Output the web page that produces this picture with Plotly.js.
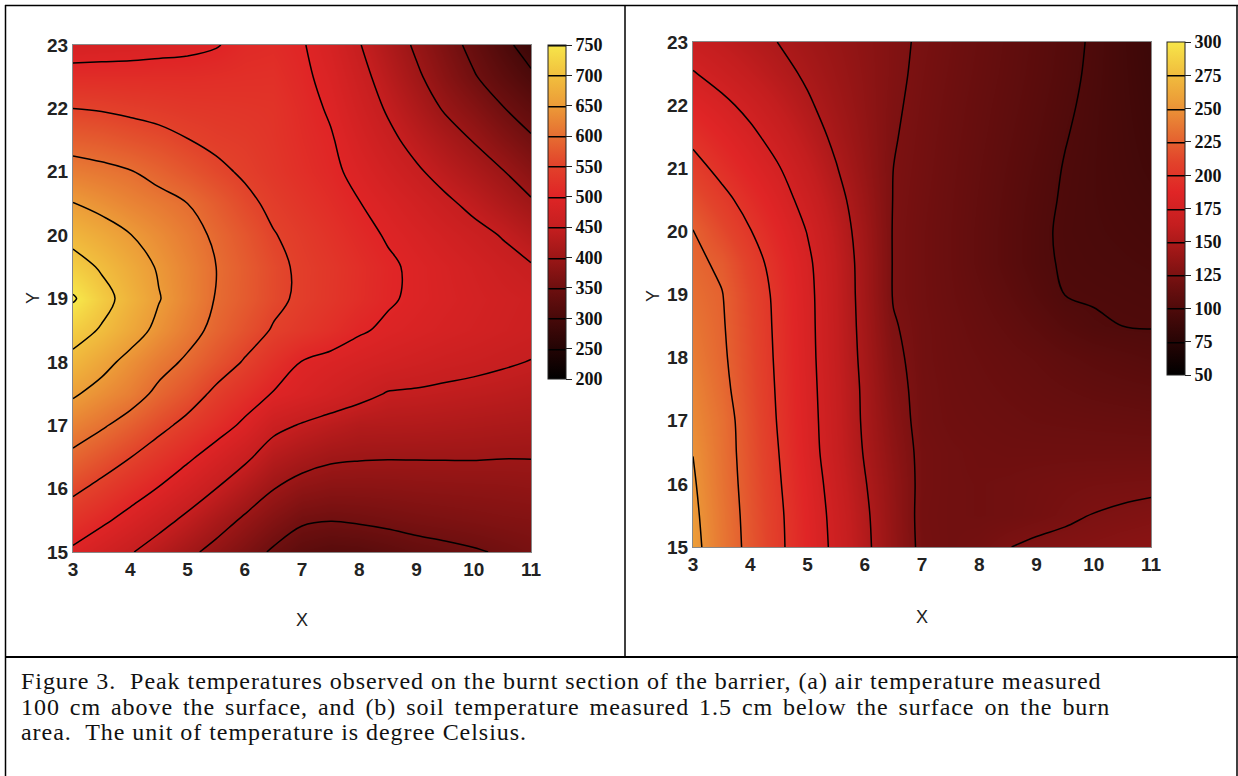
<!DOCTYPE html>
<html><head><meta charset="utf-8">
<script src="https://cdn.plot.ly/plotly-3.0.1.min.js"></script>
<style>
html,body{margin:0;padding:0;background:#fff;} #chart{width:1238px;height:776px;}
.annotation[data-index="4"] text, .annotation[data-index="5"] text, .annotation[data-index="6"] text { letter-spacing: 0.95px; }
.annotation[data-index="5"] text { word-spacing: 3px; }
</style>
</head><body><div id="chart"></div>
<script>
const xGrid = [3,3.5,4,4.5,5,5.5,6,6.5,7,7.5,8,8.5,9,9.5,10,10.5,11];
const yGrid = [15,15.5,16,16.5,17,17.5,18,18.5,19,19.5,20,20.5,21,21.5,22,22.5,23];

// (a) peak air temperature, rows from y=15 to y=23
const airTemp = [
 [493,473,453,431,409,388,367,345,327,320,322,329,337,342,347,353,360],
 [526,507,487,464,441,417,394,373,355,351,354,358,362,365,368,371,373],
 [558,539,518,498,474,450,425,401,385,379,379,380,382,383,384,385,387],
 [591,571,551,529,507,483,458,430,416,406,403,402,402,402,402,401,401],
 [623,605,584,561,539,517,493,461,447,436,427,426,425,423,421,419,417],
 [655,636,618,591,569,542,520,498,486,473,461,448,446,443,440,437,433],
 [688,663,638,614,594,570,547,522,499,490,482,475,469,463,459,454,449],
 [718,696,668,640,614,590,568,547,533,519,504,494,487,480,474,468,462],
 [755,715,683,652,625,598,579,559,543,530,517,504,494,486,478,471,465],
 [718,695,671,646,623,600,580,560,543,531,518,505,494,484,474,463,453],
 [686,669,651,633,614,594,573,552,538,524,510,497,485,473,461,448,430],
 [651,638,625,613,600,580,559,542,528,515,501,487,472,457,441,423,405],
 [617,610,602,588,573,558,545,532,519,507,491,473,455,437,420,402,380],
 [583,578,570,562,551,542,537,528,515,503,481,459,438,418,398,376,355],
 [550,547,542,537,532,530,528,526,512,496,471,446,421,396,375,352,331],
 [515,515,515,515,515,517,519,520,507,489,462,434,406,379,353,329,306],
 [480,483,485,489,492,498,510,513,503,481,452,423,394,367,339,311,283]
];

// (b) peak soil temperature, rows from y=15 to y=23
const soilTemp = [
 [256,236.5,220,203.5,187,170.5,154,137,121.5,119.5,121,124.7,127,128.5,129.5,131,132],
 [254,236,219,203,186,169.5,153,136.5,121,119.5,119,119.5,121,123,125.3,126.4,127.6],
 [252,234.5,218,201.5,184.5,167.5,151,136,121.5,119.5,119,119.5,120.5,121.5,122.2,122.6,123],
 [249.7,233.5,217,200,182.4,165.3,148.8,134,121.5,119.5,118.5,118,118,118,118,118,118],
 [246,233,216,198.5,181.5,164.5,147.5,132,120.5,118.5,117.5,116.5,115.5,115,114.5,114,113.4],
 [243,230,214.3,197.6,180.7,163.9,147,130,120.5,118,116.5,115,113.5,112,110.5,109.5,108.6],
 [239,228,213.2,196.7,180,163,145.8,128.2,120,117.5,115.5,113.5,111.5,109,107,105.5,104],
 [236,226.8,212.2,196,179.6,162.5,144.8,126.1,120,117,114,111,107.5,103.8,101,100,99.6],
 [232.5,225.7,211,195.2,179.2,162.2,144,124.2,119.5,116,112.5,108.5,104,99.9,99.3,98.7,98],
 [229,222,207.4,192.6,177.9,161.5,143.7,124.2,119.5,115.5,111,106.5,102,99,98,97.3,96.5],
 [225.5,213,200.7,187.6,174.4,159.1,142.5,124.2,119.5,115.5,111,106.5,102,98.5,97.3,96.2,95],
 [216,204.9,193.5,181.8,169.2,155.5,140.4,124.6,120,115.9,111.5,107,102.6,99,97,95.3,93.5],
 [206,195.3,185.5,175.8,163.4,150.8,137.9,125,120.7,116.4,112.1,107.8,103.5,99.5,97,94.5,92],
 [196,187.3,178.6,168.6,157.5,146.7,136.3,125.8,121.2,117,112.9,108.7,104.6,100.4,97.2,94.1,91],
 [186,178.8,170.6,161.3,152,143.5,135,126.7,121.8,117.7,113.6,109.6,105.6,101.5,97.6,93.8,90],
 [176,169,162,154.7,147.7,141,134.3,127.6,122.5,118.5,114.5,110.5,106.5,102.5,98.2,93.6,89],
 [166,160.6,155,149.7,144,138.9,133.4,128,123.2,119.2,115.2,111.1,107.1,103,98.7,93.4,88]
];

const xTicks = [3,4,5,6,7,8,9,10,11];
const yTicks = [15,16,17,18,19,20,21,22,23];
const airTicks = [200,250,300,350,400,450,500,550,600,650,700,750];
const soilTicks = [50,75,100,125,150,175,200,225,250,275,300];

const captionLines = [
 'Figure 3.\u00a0 Peak temperatures observed on the burnt section of the barrier, (a) air temperature measured',
 '100 cm above the surface, and (b) soil temperature measured 1.5 cm below the surface on the burn',
 'area.\u00a0 The unit of temperature is degree Celsius.'
];

const W = 1238, H = 776;
const px = v => v / W;
const py = v => 1 - v / H;

const hotRed = [
 [0,'#000000'],[0.09,'#230404'],[0.18,'#470909'],[0.27,'#6d0f0f'],[0.36,'#9a1616'],
 [0.45,'#c41e1f'],[0.55,'#e02526'],[0.64,'#e2432b'],[0.73,'#e66f32'],[0.82,'#ec9c38'],
 [0.91,'#f1c03e'],[1,'#f7e64a']
];

const cbTickFont = {family:'Liberation Serif', size:18, weight:700, color:'#111'};
const axTickFont = {family:'Liberation Sans', size:19, weight:700, color:'#222'};

function cbar(xpx, toppx, lenpx, vals){
  return {x: px(xpx), xanchor:'left', xpad:0, y: py(toppx), yanchor:'top', ypad:0,
    len: lenpx, lenmode:'pixels', thickness:18, thicknessmode:'pixels',
    outlinewidth:1, outlinecolor:'#222', tickvals: vals, ticks:'outside', ticklen:6,
    tickcolor:'#222', tickwidth:1, tickfont: cbTickFont};
}

const traces = [
 {type:'contour', x:xGrid, y:yGrid, z:airTemp, zmin:200, zmax:750, zauto:false,
  colorscale:hotRed, contours:{coloring:'heatmap', start:250, end:750, size:50, showlines:true},
  line:{color:'#000', width:1.5, smoothing:1}, xaxis:'x', yaxis:'y',
  colorbar: cbar(548, 45, 334, airTicks), hoverinfo:'skip'},
 {type:'contour', x:xGrid, y:yGrid, z:soilTemp, zmin:50, zmax:300, zauto:false,
  colorscale:hotRed, contours:{coloring:'heatmap', start:75, end:275, size:25, showlines:true},
  line:{color:'#000', width:1.5, smoothing:1}, xaxis:'x2', yaxis:'y2',
  colorbar: cbar(1167, 42, 333, soilTicks), hoverinfo:'skip'}
];

function xax(d0,d1,anchor){
  return {domain:[px(d0),px(d1)], range:[3,11], tickvals:xTicks, showgrid:false, zeroline:false,
    showline:true, mirror:true, linecolor:'#888', linewidth:1, ticks:'', tickfont:axTickFont, anchor:anchor, fixedrange:true};
}
function yax(top,bot,anchor){
  return {domain:[py(bot),py(top)], range:[15,23], tickvals:yTicks, showgrid:false, zeroline:false,
    showline:true, mirror:true, linecolor:'#888', linewidth:1, ticks:'', tickfont:axTickFont, anchor:anchor, fixedrange:true};
}

const lineStyle = {color:'#000', width:1.5};
const shapes = [
 {type:'line', xref:'paper', yref:'paper', x0:px(5), x1:px(1238), y0:py(5.5), y1:py(5.5), line:lineStyle},
 {type:'line', xref:'paper', yref:'paper', x0:px(5.5), x1:px(5.5), y0:py(5), y1:py(776), line:lineStyle},
 {type:'line', xref:'paper', yref:'paper', x0:px(625), x1:px(625), y0:py(5), y1:py(657), line:lineStyle},
 {type:'line', xref:'paper', yref:'paper', x0:px(5), x1:px(1238), y0:py(657), y1:py(657), line:{color:'#000', width:2.2}},
 {type:'line', xref:'paper', yref:'paper', x0:px(1237), x1:px(1237), y0:py(5), y1:py(776), line:lineStyle}
];

const titleFont = {family:'Liberation Sans', size:18, color:'#222'};
const capFont = {family:'Liberation Serif', size:24, color:'#111'};
const annotations = [
 {text:'X', xref:'paper', yref:'paper', x:px(302), y:py(620), showarrow:false, font:titleFont, xanchor:'center', yanchor:'middle'},
 {text:'X', xref:'paper', yref:'paper', x:px(922), y:py(617), showarrow:false, font:titleFont, xanchor:'center', yanchor:'middle'},
 {text:'Y', xref:'paper', yref:'paper', x:px(33), y:py(298), showarrow:false, font:titleFont, textangle:-90, xanchor:'center', yanchor:'middle'},
 {text:'Y', xref:'paper', yref:'paper', x:px(653), y:py(296), showarrow:false, font:titleFont, textangle:-90, xanchor:'center', yanchor:'middle'}
];
captionLines.forEach((t,i)=>{
  annotations.push({text:t, xref:'paper', yref:'paper', x:px(19), y:py(681 + i*25.5), showarrow:false,
    font:capFont, xanchor:'left', yanchor:'middle', align:'left'});
});

const layout = {
  width:W, height:H, margin:{l:0,r:0,t:0,b:0}, paper_bgcolor:'#fff', plot_bgcolor:'#fff',
  showlegend:false,
  xaxis: xax(73,531,'y'), yaxis: yax(45,552,'x'),
  xaxis2: xax(693,1151,'y2'), yaxis2: yax(42,547,'x2'),
  shapes: shapes, annotations: annotations
};

Plotly.newPlot('chart', traces, layout, {displayModeBar:false, staticPlot:true});
</script>
</body></html>
